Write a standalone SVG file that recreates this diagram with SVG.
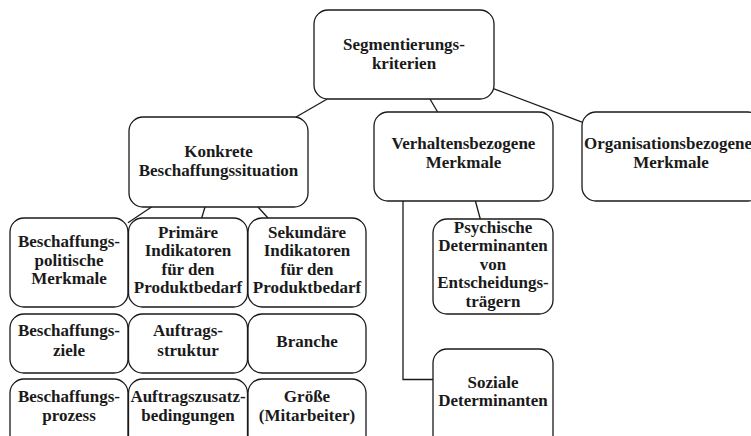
<svg xmlns="http://www.w3.org/2000/svg" width="751" height="436" viewBox="0 0 751 436">
<style>
.box{fill:#fff;stroke:#1a1a1a;stroke-width:1.3}
.c{fill:none;stroke:#1a1a1a;stroke-width:1.3}
</style>
<rect width="751" height="436" fill="#fff"/>
<g id="connectors">
<line class="c" x1="327.2" y1="99" x2="296.1" y2="117"/>
<line class="c" x1="430" y1="99" x2="437.6" y2="112"/>
<line class="c" x1="494" y1="88.8" x2="582" y2="122.2"/>
<line class="c" x1="151.5" y1="207" x2="128" y2="222.8"/>
<line class="c" x1="205" y1="207" x2="201.7" y2="218"/>
<line class="c" x1="258" y1="207" x2="268" y2="218"/>
<line class="c" x1="475.4" y1="201" x2="480.3" y2="219"/>
<path class="c" d="M403,201 V379.5 H433"/>
</g>
<g font-family="Liberation Serif, Times New Roman, serif" font-weight="bold" font-size="17" fill="#1a1a1a" text-anchor="middle">
<g id="root">
<rect class="box" x="314" y="10" width="180" height="89" rx="14"/>
<text x="404" y="50">Segmentierungs-</text>
<text x="404" y="68.5">kriterien</text>
</g>
<g id="konkrete">
<rect class="box" x="129" y="117" width="179" height="90" rx="14"/>
<text x="218.5" y="157">Konkrete</text>
<text x="218.5" y="175.5">Beschaffungssituation</text>
</g>
<g id="verhalten">
<rect class="box" x="374" y="112" width="179" height="89" rx="14"/>
<text x="463.5" y="149">Verhaltensbezogene</text>
<text x="463.5" y="168">Merkmale</text>
</g>
<g id="organisation">
<rect class="box" x="582" y="112" width="180" height="89" rx="14"/>
<text x="668" y="149">Organisationsbezogene</text>
<text x="671" y="168">Merkmale</text>
</g>
<g id="beschaffungspolitisch">
<rect class="box" x="10" y="218" width="118" height="89" rx="14"/>
<text x="69" y="247">Beschaffungs-</text>
<text x="69" y="265.5">politische</text>
<text x="69" y="284">Merkmale</text>
</g>
<g id="primaer">
<rect class="box" x="128.5" y="218" width="119" height="89" rx="14"/>
<text x="188" y="237.5">Primäre</text>
<text x="188" y="256">Indikatoren</text>
<text x="188" y="274.5">für den</text>
<text x="188" y="293">Produktbedarf</text>
</g>
<g id="sekundaer">
<rect class="box" x="248" y="218" width="118" height="89" rx="14"/>
<text x="307" y="237.5">Sekundäre</text>
<text x="307" y="256">Indikatoren</text>
<text x="307" y="274.5">für den</text>
<text x="307" y="293">Produktbedarf</text>
</g>
<g id="ziele">
<rect class="box" x="10" y="314" width="118" height="59" rx="14"/>
<text x="69" y="336">Beschaffungs-</text>
<text x="69" y="355.5">ziele</text>
</g>
<g id="auftragsstruktur">
<rect class="box" x="128.5" y="314" width="119" height="59" rx="14"/>
<text x="188" y="336">Auftrags-</text>
<text x="188" y="355.5">struktur</text>
</g>
<g id="branche">
<rect class="box" x="248" y="314" width="118" height="59" rx="14"/>
<text x="307" y="347">Branche</text>
</g>
<g id="prozess">
<rect class="box" x="10" y="379" width="118" height="75" rx="14"/>
<text x="69" y="402">Beschaffungs-</text>
<text x="69" y="421">prozess</text>
</g>
<g id="zusatz">
<rect class="box" x="128.5" y="379" width="119" height="75" rx="14"/>
<text x="188" y="402">Auftragszusatz-</text>
<text x="188" y="421">bedingungen</text>
</g>
<g id="groesse">
<rect class="box" x="248" y="379" width="118" height="75" rx="14"/>
<text x="307" y="402">Größe</text>
<text x="307" y="421">(Mitarbeiter)</text>
</g>
<g id="psychisch">
<rect class="box" x="433" y="219" width="120" height="95" rx="14"/>
<text x="493" y="232.5">Psychische</text>
<text x="493" y="251">Determinanten</text>
<text x="493" y="269.5">von</text>
<text x="493" y="288">Entscheidungs-</text>
<text x="493" y="306.5">trägern</text>
</g>
<g id="sozial">
<rect class="box" x="433" y="349" width="120" height="100" rx="14"/>
<text x="493" y="387.5">Soziale</text>
<text x="493" y="406">Determinanten</text>
</g>
</g>
</svg>
